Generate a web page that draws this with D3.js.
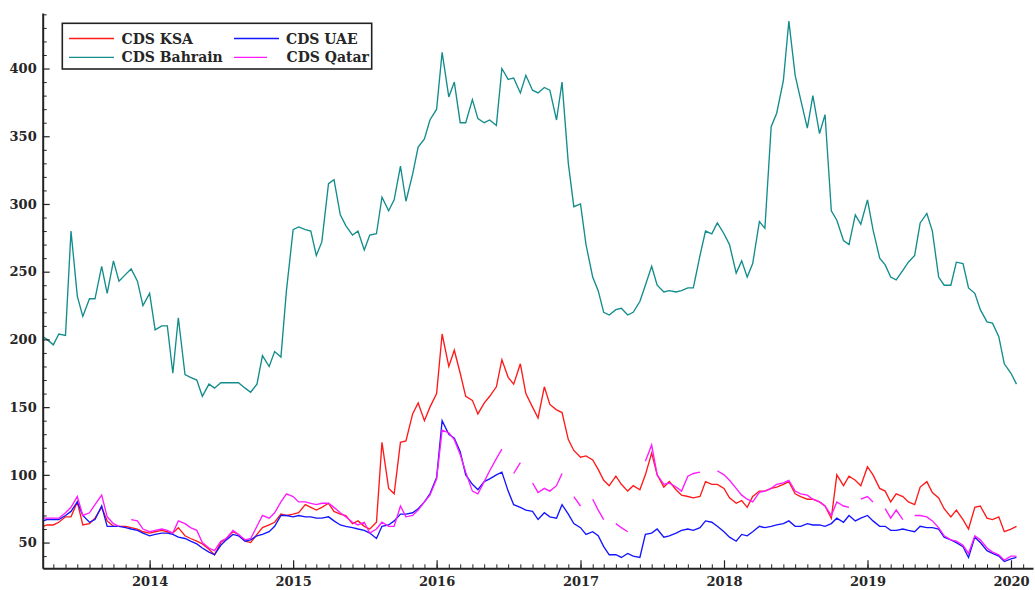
<!DOCTYPE html>
<html><head><meta charset="utf-8">
<script src="https://cdn.jsdelivr.net/npm/d3@7"></script>
<style>body{margin:0;background:#fff}svg{display:block}</style>
</head><body><svg id="c" width="1035" height="590"></svg>
<script>
// ---- DATA (semi-monthly readings) ----
const dates = [
"2013-04-05","2013-04-15","2013-05-01","2013-05-15","2013-06-01","2013-06-15","2013-07-01","2013-07-15","2013-08-01","2013-08-15","2013-09-01","2013-09-15",
"2013-10-01","2013-10-15","2013-11-01","2013-11-15","2013-12-01","2013-12-15","2014-01-01","2014-01-15","2014-02-01","2014-02-15","2014-03-01","2014-03-15",
"2014-04-01","2014-04-15","2014-05-01","2014-05-15","2014-06-01","2014-06-15","2014-07-01","2014-07-15","2014-08-01","2014-08-15","2014-09-01","2014-09-15",
"2014-10-01","2014-10-15","2014-11-01","2014-11-15","2014-12-01","2014-12-15","2015-01-01","2015-01-15","2015-02-01","2015-02-15","2015-03-01","2015-03-15",
"2015-04-01","2015-04-15","2015-05-01","2015-05-15","2015-06-01","2015-06-15","2015-07-01","2015-07-15","2015-08-01","2015-08-15","2015-09-01","2015-09-15",
"2015-10-01","2015-10-15","2015-11-01","2015-11-15","2015-12-01","2015-12-15","2016-01-01","2016-01-15","2016-02-01","2016-02-15","2016-03-01","2016-03-15",
"2016-04-01","2016-04-15","2016-05-01","2016-05-15","2016-06-01","2016-06-15","2016-07-01","2016-07-15","2016-08-01","2016-08-15","2016-09-01","2016-09-15",
"2016-10-01","2016-10-15","2016-11-01","2016-11-15","2016-12-01","2016-12-15","2017-01-01","2017-01-15","2017-02-01","2017-02-15","2017-03-01","2017-03-15",
"2017-04-01","2017-04-15","2017-05-01","2017-05-15","2017-06-01","2017-06-15","2017-07-01","2017-07-15","2017-08-01","2017-08-15","2017-09-01","2017-09-15",
"2017-10-01","2017-10-15","2017-11-01","2017-11-15","2017-12-01","2017-12-15","2018-01-01","2018-01-15","2018-02-01","2018-02-15","2018-03-01","2018-03-15",
"2018-04-01","2018-04-15","2018-05-01","2018-05-15","2018-06-01","2018-06-15","2018-07-01","2018-07-15","2018-08-01","2018-08-15","2018-09-01","2018-09-15",
"2018-10-01","2018-10-15","2018-11-01","2018-11-15","2018-12-01","2018-12-15","2019-01-01","2019-01-15","2019-02-01","2019-02-15","2019-03-01","2019-03-15",
"2019-04-01","2019-04-15","2019-05-01","2019-05-15","2019-06-01","2019-06-15","2019-07-01","2019-07-15","2019-08-01","2019-08-15","2019-09-01","2019-09-15",
"2019-10-01","2019-10-15","2019-11-01","2019-11-15","2019-12-01","2019-12-15","2020-01-01","2020-01-15"
];

const cdsKSA = [
62,63,63,65,69,69,80,63,64,68,76,66,
62,62,62,61,60,58,57,58,59,58,57,61,
55,53,51,49,45,41,50,53,58,56,51,50,
56,61,63,65,71,70,71,72,78,76,74,76,
79,73,71,70,64,66,62,60,65,124,90,86,
124,125,145,153,140,150,160,204,180,192,175,158,
155,145,153,158,165,185,172,167,182,160,150,142,
165,152,148,146,126,118,113,114,111,104,96,92,
99,93,88,92,89,100,116,100,91,95,89,85,
84,83,84,95,93,93,90,83,79,81,76,84,
88,88,90,91,93,95,86,84,82,82,80,77,
68,100,92,99,96,92,106,100,90,88,80,86,
84,80,78,91,95,87,83,75,69,74,67,60,
76,77,68,67,69,58,60,62
];

const cdsUAE = [
66,67,67,67,70,73,80,70,65,67,77,62,
62,62,61,60,59,57,55,56,57,57,56,54,
53,51,49,46,43,41,48,52,56,55,51,52,
55,56,58,62,70,70,69,70,69,69,68,68,
69,66,63,62,61,60,59,57,53,62,63,66,
71,71,72,75,80,86,98,140,130,127,117,100,
93,89,95,97,100,102,88,78,76,74,73,67,
72,69,68,78,71,64,61,56,58,55,47,41,
41,39,42,40,39,56,57,60,54,55,57,59,
60,59,61,66,65,62,58,54,51,56,55,58,
62,61,62,63,64,66,62,62,64,63,63,62,
64,68,65,70,66,68,70,66,62,62,59,59,
60,59,58,62,61,61,60,54,52,50,47,39,
54,50,44,42,40,36,38,39
];

const cdsBahrain = [
202,200,196,204,203,280,232,217,230,230,254,234,
258,243,248,252,243,225,234,207,210,210,175,216,
174,172,170,158,167,164,168,168,168,168,164,161,
167,188,180,191,187,236,281,283,281,280,262,272,
315,318,292,284,277,280,266,277,278,305,295,303,
328,302,322,342,348,362,370,412,379,390,360,360,
377,363,360,362,358,400,392,393,382,395,384,382,
386,384,362,390,330,298,300,270,246,236,220,218,
222,223,218,220,228,240,254,240,235,236,235,236,
238,238,262,280,278,286,278,270,249,258,246,256,
287,282,357,367,391,435,395,377,356,380,352,366,
295,288,273,270,292,285,303,281,260,255,246,244,
251,257,262,286,293,280,246,240,240,257,256,238,
234,222,213,212,202,182,175,167
];

const cdsQatar = [
68,68,68,68,72,76,84,70,72,78,85,69,
64,62,null,67,66,60,58,59,60,59,57,66,
64,61,59,50,46,44,51,53,59,56,52,53,
62,70,68,72,80,86,84,80,80,79,78,79,
79,76,72,69,65,63,65,57,60,65,62,62,
77,69,70,74,80,85,97,133,131,126,115,102,
88,86,95,103,112,119,null,101,109,null,94,87,
90,88,92,101,null,84,77,null,82,74,67,null,
64,61,58,null,null,110,122,100,93,94,91,88,
99,101,102,null,null,103,100,96,90,85,82,80,
87,88,90,93,94,96,88,86,85,82,80,77,
70,80,77,76,null,82,84,80,null,75,68,74,
67,null,70,70,69,66,61,55,52,51,48,42,
55,52,46,43,41,37,40,40
];

const seriesNames = ["CDS KSA", "CDS Bahrain", "CDS UAE", "CDS Qatar"];
const yTickLabels = [50, 100, 150, 200, 250, 300, 350, 400];
const xTickLabels = ["2014", "2015", "2016", "2017", "2018", "2019", "2020"];

// ---- CHART ----
const parse = d3.timeParse("%Y-%m-%d");
const svg = d3.select("#c");
const L = 42.7, R = 1033, T = 13, B = 568.3;
const x = d3.scaleTime().domain([parse("2013-04-04"), parse("2020-02-26")]).range([L, R]);
const y = d3.scaleLinear().domain([31, 441]).range([B, T]);
const font = "'DejaVu Serif', 'Liberation Serif', serif";

svg.append("defs").append("clipPath").attr("id", "plot")
  .append("rect").attr("x", L).attr("y", T).attr("width", R - L).attr("height", B - T);

const colors = {"CDS KSA": "#ff1a1a", "CDS UAE": "#1414ff", "CDS Bahrain": "#138c8c", "CDS Qatar": "#ff1aff"};
const data = {"CDS KSA": cdsKSA, "CDS UAE": cdsUAE, "CDS Bahrain": cdsBahrain, "CDS Qatar": cdsQatar};
const dd = dates.map(parse);

const line = d3.line()
  .defined(d => d.v != null)
  .x(d => x(d.t)).y(d => y(d.v));

const g = svg.append("g").attr("clip-path", "url(#plot)");
["CDS KSA", "CDS UAE", "CDS Bahrain", "CDS Qatar"].forEach(name => {
  const pts = dd.map((t, i) => ({t, v: data[name][i]}));
  g.append("path").datum(pts)
    .attr("fill", "none").attr("stroke", colors[name])
    .attr("stroke-width", 1.35).attr("stroke-linejoin", "miter")
    .attr("d", line);
});

// minor ticks
const minorY = d3.range(40, 441, 10).filter(v => v % 50 !== 0);
svg.append("g").attr("transform", `translate(${L},0)`)
  .call(d3.axisLeft(y).tickValues(minorY).tickSize(-4).tickFormat(""))
  .call(s => { s.select(".domain").remove(); s.selectAll("line").attr("stroke", "#222").attr("stroke-width", 1); });
const minorX = d3.timeMonth.range(parse("2013-05-01"), parse("2020-02-26"));
svg.append("g").attr("transform", `translate(0,${B})`)
  .call(d3.axisBottom(x).tickValues(minorX).tickSize(-4).tickFormat(""))
  .call(s => { s.select(".domain").remove(); s.selectAll("line").attr("stroke", "#222").attr("stroke-width", 1); });

// major axes
const yAx = svg.append("g").attr("transform", `translate(${L},0)`)
  .call(d3.axisLeft(y).tickValues(yTickLabels).tickSize(-7).tickSizeOuter(0).tickPadding(6));
const xAx = svg.append("g").attr("transform", `translate(0,${B})`)
  .call(d3.axisBottom(x).tickValues(xTickLabels.map(s => parse(s + "-01-01"))).tickSize(-8).tickSizeOuter(0).tickPadding(8)
    .tickFormat((d, i) => xTickLabels[i]));
[yAx, xAx].forEach(a => {
  a.select(".domain").attr("stroke", "#222").attr("stroke-width", 2);
  a.selectAll(".tick line").attr("stroke", "#222").attr("stroke-width", 1.2);
  a.selectAll("text").attr("font-family", font).attr("font-size", 13).attr("font-weight", "bold").attr("fill", "#262626");
});

// legend
const lg = svg.append("g");
lg.append("rect").attr("x", 62.3).attr("y", 23.3).attr("width", 309.4).attr("height", 45.7)
  .attr("fill", "#fff").attr("stroke", "#222").attr("stroke-width", 1.6);
const legendPos = [
  {lx1: 69, lx2: 114, tx: 121.5, y: 38.5},
  {lx1: 69, lx2: 114, tx: 121.5, y: 57.3},
  {lx1: 234, lx2: 279, tx: 286, y: 38.5},
  {lx1: 234, lx2: 267, tx: 286.5, y: 57.3}
];
seriesNames.forEach((name, i) => {
  const p = legendPos[i];
  lg.append("line").attr("x1", p.lx1).attr("x2", p.lx2).attr("y1", p.y).attr("y2", p.y)
    .attr("stroke", colors[name]).attr("stroke-width", 1.3);
  lg.append("text").attr("x", p.tx).attr("y", p.y + 5)
    .attr("font-family", font).attr("font-size", 14).attr("font-weight", "bold").attr("fill", "#262626")
    .text(name);
});
</script></body></html>
